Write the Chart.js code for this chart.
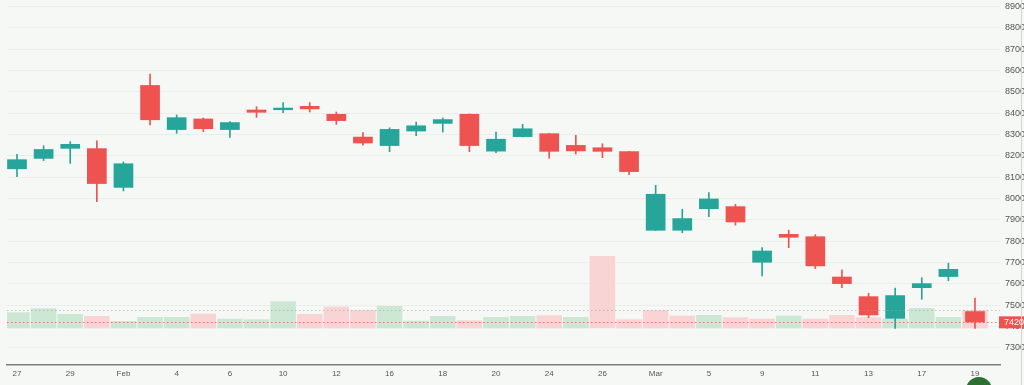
<!DOCTYPE html>
<html>
<head>
<meta charset="utf-8">
<script src="https://cdn.jsdelivr.net/npm/chart.js@4.4.1/dist/chart.umd.min.js"></script>
<style>
html, body { margin: 0; padding: 0; background: #f6f8f6; }
#wrap { position: relative; width: 1024px; height: 385px; overflow: hidden; }
#edge { position: absolute; left: 1021px; top: 0; width: 1px; height: 385px; background: #d4d6d4; }
#fab { position: absolute; left: 966px; top: 377px; width: 26px; height: 26px; border-radius: 50%; background: #2e7031; }
</style>
</head>
<body>
<div id="wrap">
  <canvas id="grafico" width="1024" height="385"></canvas>
  <div id="edge"></div>
  <div id="fab"></div>
</div>
<script>
// dias (rótulo só nos índices pares)
const dias = ['27','28','29','30','Feb','3','4','5','6','7','10','11','12','13','16','17','18','19','20','21',
  '24','25','26','27','Mar','4','5','6','9','10','11','12','13','16','17','18','19'];
const abertura = [8138,8187,8234,8236,8051,8532,8322,8375,8322,8417,8415,8434,8397,8290,8247,8315,8351,8397,8221,8289,
  8306,8251,8240,8222,7850,7850,7951,7964,7700,7834,7823,7634,7542,7437,7581,7633,7472];
const maxima = [8208,8248,8267,8271,8172,8584,8392,8378,8361,8431,8450,8450,8406,8309,8332,8359,8378,8397,8312,8348,
  8306,8297,8257,8222,8062,7950,8028,7973,7770,7852,7831,7666,7556,7580,7629,7697,7534];
const minimas = [8103,8178,8165,7986,8036,8346,8306,8314,8287,8381,8403,8406,8348,8250,8220,8295,8312,8220,8215,8289,
  8189,8209,8192,8112,7850,7840,7915,7876,7637,7770,7672,7583,7442,7392,7528,7615,7392];
const fechamento = [8184,8232,8256,8069,8165,8368,8381,8326,8358,8403,8426,8419,8364,8259,8326,8343,8372,8247,8280,8329,
  8220,8222,8220,8125,8022,7908,8000,7889,7756,7817,7683,7600,7453,7547,7603,7670,7420];
const volume = [1600,2000,1430,1230,730,1130,1130,1460,960,900,2700,1430,2160,1830,2230,760,1230,800,1130,1230,
  1300,1130,7230,900,1830,1260,1330,1100,960,1260,960,1330,1100,960,2030,1130,1830];
const ticksPreco = [7300,7400,7500,7600,7700,7800,7900,8000,8100,8200,8300,8400,8500,8600,8700,8800,8900];
const precoAtual = 7420;
const precoRef = 7478;

const VERDE = '#26a69a', VERMELHO = '#ef5350';
const VOL_VERDE = 'rgb(204,232,213)', VOL_VERMELHO = 'rgb(248,212,212)';

const corVela = abertura.map((o, i) => fechamento[i] >= o ? VERDE : VERMELHO);
const corVol = fechamento.map((c, i) => (i === 0 ? c >= abertura[0] : c >= fechamento[i - 1]) ? VOL_VERDE : VOL_VERMELHO);

const corpos = abertura.map((o, i) => ({ x: i, y: [Math.min(o, fechamento[i]), Math.max(o, fechamento[i])] }));
const pavios = maxima.map((h, i) => ({ x: i, y: [minimas[i], h] }));
const barrasVol = volume.map((v, i) => ({ x: i, y: [0, v] }));

const semPadding = ax => { ax.paddingTop = 0; ax.paddingBottom = 0; ax.paddingLeft = 0; ax.paddingRight = 0; };

const linhasPreco = {
  id: 'linhasPreco',
  afterDatasetsDraw(chart) {
    const { ctx, chartArea: a, scales: { y } } = chart;
    ctx.save();
    ctx.lineWidth = 1;
    ctx.setLineDash([1.5, 2.5]);
    let py = Math.round(y.getPixelForValue(precoRef)) + 0.5;
    ctx.strokeStyle = 'rgba(160,165,160,0.6)';
    ctx.beginPath(); ctx.moveTo(a.left, py); ctx.lineTo(a.right, py); ctx.stroke();
    py = Math.round(y.getPixelForValue(precoAtual)) + 0.5;
    ctx.strokeStyle = 'rgba(239,83,80,0.8)';
    ctx.beginPath(); ctx.moveTo(a.left, py); ctx.lineTo(a.right, py); ctx.stroke();
    ctx.restore();
  },
  afterDraw(chart) {
    const { ctx, chartArea: a, scales: { y } } = chart;
    const py = y.getPixelForValue(precoAtual);
    ctx.save();
    ctx.fillStyle = VERMELHO;
    ctx.fillRect(a.right - 1, py - 6, 26, 12);
    ctx.fillStyle = '#fff';
    ctx.font = '9px "Liberation Sans", Arial, sans-serif';
    ctx.textBaseline = 'middle';
    ctx.fillText(String(precoAtual), a.right + 4, py + 0.5);
    ctx.restore();
  }
};

Chart.defaults.font.family = '"Liberation Sans", Arial, sans-serif';

new Chart(document.getElementById('grafico'), {
  type: 'bar',
  data: {
    datasets: [
      { data: corpos, backgroundColor: corVela, grouped: false, barPercentage: 0.74, categoryPercentage: 1, yAxisID: 'y', order: 0 },
      { data: pavios, backgroundColor: corVela, grouped: false, barThickness: 1, yAxisID: 'y', order: 1 },
      { data: barrasVol, backgroundColor: corVol, grouped: false, barPercentage: 0.96, categoryPercentage: 1, yAxisID: 'vol', order: 2 }
    ]
  },
  options: {
    responsive: false, animation: false,
    layout: { padding: { left: 7, top: 0, right: 0, bottom: 0 } },
    plugins: { legend: { display: false }, tooltip: { enabled: false } },
    scales: {
      x: {
        type: 'linear', min: -0.376, max: 36.94, offset: false,
        afterBuildTicks: ax => { ax.ticks = dias.map((d, i) => ({ value: i })).filter(t => t.value % 2 === 0); },
        afterFit: ax => { ax.height = 20; semPadding(ax); },
        grid: { display: false, drawTicks: false },
        border: { display: true, color: '#7d807d', width: 1.5 },
        ticks: { autoSkip: false, maxRotation: 0, padding: 4, color: '#555', font: { size: 8 }, callback: v => dias[v] }
      },
      y: {
        position: 'right', min: 7220, max: 8931,
        afterBuildTicks: ax => { ax.ticks = ticksPreco.map(v => ({ value: v })); },
        afterFit: ax => { ax.width = 24; semPadding(ax); },
        grid: { color: '#eceeec', drawTicks: false },
        border: { display: false },
        ticks: { padding: 5, color: '#555', font: { size: 9 }, callback: v => String(v) }
      },
      vol: { display: false, min: -3670, max: 32830 }
    }
  },
  plugins: [linhasPreco]
});
</script>
</body>
</html>
